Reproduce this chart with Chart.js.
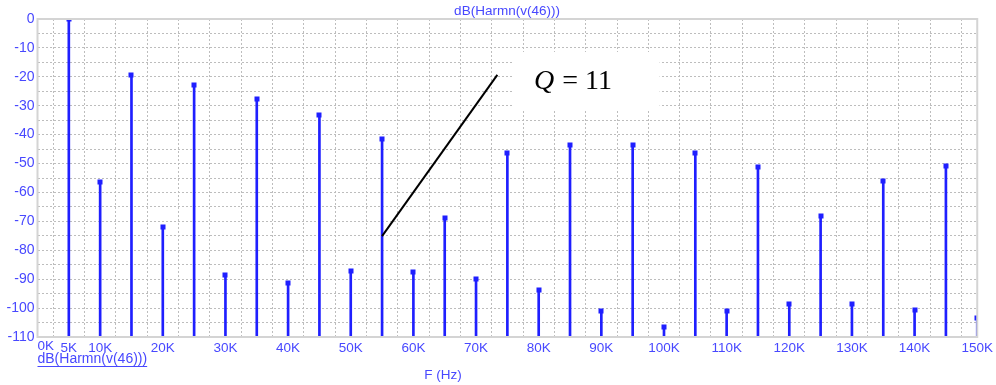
<!DOCTYPE html>
<html><head><meta charset="utf-8">
<script src="https://cdn.jsdelivr.net/npm/chart.js@4"></script>
<style>html,body{margin:0;padding:0;background:#fff;}#wrap{width:996px;height:385px;position:relative;}</style>
</head><body><div id="wrap"><canvas id="c" width="996" height="385"></canvas></div>
<script>
const freqsK = [5,10,15,20,25,30,35,40,45,50,55,60,65,70,75,80,85,90,95,100,105,110,115,120,125,130,135,140,145,150];
const dbValues = [0,-56.4,-19.3,-71.8,-22.8,-88.7,-27.5,-91.2,-33.2,-87.1,-41.5,-87.6,-69.0,-89.9,-46.3,-93.9,-43.5,-100.9,-43.7,-106.7,-46.3,-100.9,-51.3,-98.7,-68.1,-98.7,-56.2,-100.5,-51.0,-103.5];
const xLabeledTicks = [5,10,20,30,40,50,60,70,80,90,100,110,120,130,140,150];
const seriesName = 'dB(Harmn(v(46)))';
const xTitle = 'F (Hz)';
const annotationText = 'Q = 11';
const floorDb = -110;

const blue = '#1f1fff';
const txt = '#4848ff';
const font = 'Arial, "Liberation Sans", sans-serif';

const stems = freqsK.map((f,i)=>({x:f, y:[floorDb, dbValues[i]]}));
const pts = freqsK.map((f,i)=>({x:f, y:dbValues[i]}));

const deco = {
  id:'deco',
  afterDatasetsDraw(chart){
    const {ctx, chartArea:a, scales:{x,y}} = chart;
    ctx.save();
    ctx.beginPath(); ctx.rect(a.left, a.top, a.right-a.left, a.bottom-a.top); ctx.clip();
    // square markers
    ctx.fillStyle=blue;
    pts.forEach(p=>{
      const px=Math.round(x.getPixelForValue(p.x)), py=Math.round(y.getPixelForValue(p.y));
      ctx.fillRect(px-2.5, py-2.5, 5, 5);
    });
    ctx.restore();
  },
  afterDraw(chart){
    const {ctx, chartArea:a, scales:{x,y}} = chart;
    ctx.save();
    // border
    ctx.strokeStyle='#d4d4d4'; ctx.lineWidth=2;
    ctx.strokeRect(a.left, a.top, a.right-a.left, a.bottom-a.top);
    // title
    ctx.fillStyle=txt; ctx.font='13.5px '+font; ctx.textAlign='center'; ctx.textBaseline='middle';
    ctx.fillText(seriesName, 507, 11);
    // 0K label
    ctx.font='13.5px '+font; ctx.textAlign='left';
    ctx.fillText('0K', a.left, 346);
    // legend underlined
    ctx.font='14px '+font;
    ctx.fillText(seriesName, a.left, 359);
    const w = ctx.measureText(seriesName).width;
    ctx.strokeStyle=txt; ctx.lineWidth=1;
    ctx.beginPath(); ctx.moveTo(a.left, 366.5); ctx.lineTo(a.left+w, 366.5); ctx.stroke();
    // x title
    ctx.textAlign='center'; ctx.font='13.5px '+font;
    ctx.fillText(xTitle, 443, 375);
    // annotation white box
    const bx1=x.getPixelForValue(75.8), bx2=x.getPixelForValue(99.3);
    const by1=y.getPixelForValue(-11.4), by2=y.getPixelForValue(-31.3);
    ctx.fillStyle='#fff'; ctx.fillRect(bx1, by1, bx2-bx1, by2-by1);
    // leader line
    ctx.strokeStyle='#000'; ctx.lineWidth=2;
    ctx.beginPath();
    ctx.moveTo(x.getPixelForValue(55), y.getPixelForValue(-75.1));
    ctx.lineTo(x.getPixelForValue(73.4), y.getPixelForValue(-19.3));
    ctx.stroke();
    // Q = 11
    ctx.fillStyle='#000'; ctx.textAlign='left'; ctx.textBaseline='alphabetic';
    ctx.font='italic 28px "Liberation Serif", "Times New Roman", serif';
    const qx=534, qy=89;
    ctx.fillText('Q', qx, qy);
    const qw=ctx.measureText('Q').width;
    ctx.font='28px "Liberation Serif", "Times New Roman", serif';
    ctx.fillText(' = 11', qx+qw+1, qy);
    ctx.restore();
  }
};

new Chart(document.getElementById('c'), {
  type:'bar',
  data:{datasets:[
    {type:'bar', data:stems, backgroundColor:blue, borderWidth:0, barThickness:2, grouped:false}
  ]},
  options:{
    responsive:false, animation:false, devicePixelRatio:1,
    layout:{padding:{top:19, right:18, left:0, bottom:0}},
    plugins:{legend:{display:false}, tooltip:{enabled:false}, title:{display:false}},
    scales:{
      x:{type:'linear', min:0, max:150, offset:false,
        grid:{color:'#bdbdbd', lineWidth:1, drawTicks:false},
        border:{display:true, color:'#d4d4d4', width:1, dash:[2,2]},
        ticks:{stepSize:5, autoSkip:false, maxRotation:0, padding:3, color:txt, font:{size:13.5, family:font},
          callback:(v)=> xLabeledTicks.includes(v) ? v+'K' : ''},
        afterFit:(s)=>{s.height=48;}
      },
      y:{type:'linear', min:floorDb, max:0,
        grid:{color:'#bdbdbd', lineWidth:1, drawTicks:false},
        border:{display:true, color:'#d4d4d4', width:1, dash:[2,2]},
        ticks:{stepSize:5, autoSkip:false, padding:3, color:txt, font:{size:14, family:font},
          callback:(v)=> v%10===0 ? String(v) : ''},
        afterFit:(s)=>{s.width=37.5;}
      }
    }
  },
  plugins:[deco]
});
</script></body></html>
